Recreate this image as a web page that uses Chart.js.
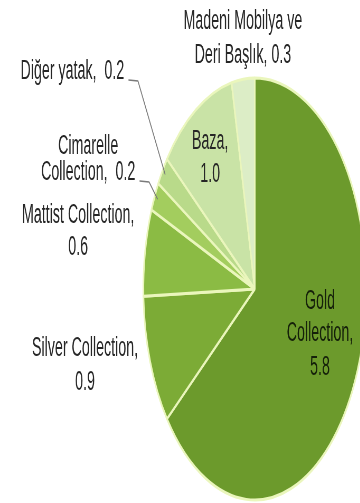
<!DOCTYPE html>
<html>
<head>
<meta charset="utf-8">
<script src="https://cdn.jsdelivr.net/npm/chart.js@4/dist/chart.umd.min.js"></script>
<style>
  html, body { margin:0; padding:0; background:#fff; }
  #frame { width:360px; height:503px; overflow:hidden; position:relative; }
  /* the reference is squashed sideways, so draw wide and squeeze */
  #wide { width:720px; height:503px; transform:scaleX(0.528); transform-origin:0 0; }
</style>
</head>
<body>
<div id="frame"><div id="wide"><canvas id="pie"></canvas></div></div>
<script>
// ===== data =====
const labels = ['Gold Collection', 'Silver Collection', 'Mattist Collection', 'Cimarelle Collection',
                'Diğer yatak', 'Baza', 'Madeni Mobilya ve Deri Başlık'];
const values = [5.8, 0.9, 0.6, 0.2, 0.2, 1.0, 0.3];
// label text per slice, {v} = value
const labelText = [
  ['Gold', 'Collection,', '{v}'],
  ['Silver Collection,', '{v}'],
  ['Mattist Collection,', '{v}'],
  ['Cimarelle', 'Collection,  {v}'],
  ['Diğer yatak,  {v}'],
  ['Baza,', '{v}'],
  ['Madeni Mobilya ve', 'Deri Başlık, {v}'],
];

// ===== look =====
const colors = ['#6c9a2c', '#7cab36', '#8bbb44', '#a3cd5e', '#b9da8a', '#c9e3a6', '#dcedc6'];
// label anchors (canvas px before the sideways squeeze)
const labelPos = [
  {x:606, ys:[302, 334, 368], color:'#15200a'},
  {x:161, ys:[349, 383]},
  {x:148, ys:[216, 248]},
  {x:167, ys:[147, 173], leader:true},
  {x:137, ys:[72], leader:true},
  {x:398, ys:[142, 175]},
  {x:460, ys:[22, 56]},
];

const labelPlugin = {
  id: 'sliceLabels',
  afterDatasetsDraw(chart){
    const ctx = chart.ctx;
    const arcs = chart.getDatasetMeta(0).data;
    ctx.save();
    ctx.font = '27px "Liberation Sans", Arial, sans-serif';
    ctx.textAlign = 'center';
    ctx.textBaseline = 'middle';
    labelPos.forEach((p, i) => {
      const lines = labelText[i].map(t => t.replace('{v}', values[i].toFixed(1)));
      ctx.fillStyle = p.color || '#262626';
      lines.forEach((t, k) => ctx.fillText(t, p.x, p.ys[k]));
      if (p.leader){
        const a = arcs[i];
        const mid = (a.startAngle + a.endAngle) / 2;
        const ex = a.x + Math.cos(mid) * a.outerRadius * 0.97;
        const ey = a.y + Math.sin(mid) * a.outerRadius * 0.97;
        const last = lines[lines.length - 1];
        const sx = p.x + ctx.measureText(last).width / 2 + 8;
        const sy = p.ys[p.ys.length - 1] + 8;
        ctx.strokeStyle = '#7a7a7a';
        ctx.lineWidth = 1.6;
        ctx.beginPath();
        ctx.moveTo(sx, sy);
        ctx.lineTo(sx + 18, sy + 1);
        ctx.lineTo(ex, ey);
        ctx.stroke();
      }
    });
    ctx.restore();
  }
};

new Chart(document.getElementById('pie'), {
  type: 'pie',
  data: {
    labels: labels,
    datasets: [{
      data: values,
      backgroundColor: colors,
      borderColor: '#eaf6bc',
      borderWidth: 3,
      hoverOffset: 0
    }]
  },
  options: {
    responsive: true,
    maintainAspectRatio: false,
    animation: false,
    layout: { padding: { left:270, right:25, top:75, bottom:0 } },
    plugins: { legend: { display:false }, tooltip: { enabled:false } }
  },
  plugins: [labelPlugin]
});
</script>
</body>
</html>
